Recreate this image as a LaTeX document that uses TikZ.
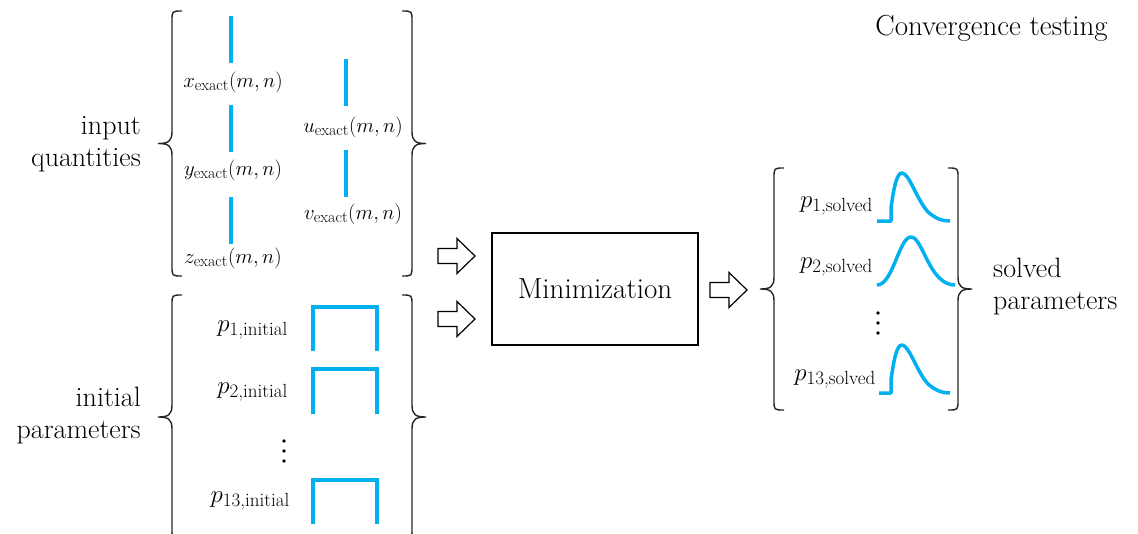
\documentclass[tikz,border=0pt]{standalone}
\definecolor{cyanline}{RGB}{0,176,240}
\newcommand{\BraceL}[3]{%
 \draw[brc] ({#1+10},#2) .. controls (#1,#2) .. (#1,{#2+10}) -- (#1,{(#2+#3)/2-12}) .. controls (#1,{(#2+#3)/2-2}) and ({#1-4},{(#2+#3)/2}) .. ({#1-14},{(#2+#3)/2}) .. controls ({#1-4},{(#2+#3)/2}) and (#1,{(#2+#3)/2+2}) .. (#1,{(#2+#3)/2+12}) -- (#1,{#3-10}) .. controls (#1,#3) .. ({#1+10},#3);}
\newcommand{\BraceR}[3]{%
 \draw[brc] ({#1-10},#2) .. controls (#1,#2) .. (#1,{#2+10}) -- (#1,{(#2+#3)/2-12}) .. controls (#1,{(#2+#3)/2-2}) and ({#1+4},{(#2+#3)/2}) .. ({#1+14},{(#2+#3)/2}) .. controls ({#1+4},{(#2+#3)/2}) and (#1,{(#2+#3)/2+2}) .. (#1,{(#2+#3)/2+12}) -- (#1,{#3-10}) .. controls (#1,#3) .. ({#1-10},#3);}
\newcommand{\subA}[1]{\mbox{\fontsize{16}{16}\selectfont #1}}
\newcommand{\subB}[1]{\mbox{\fontsize{19}{19}\selectfont #1}}
\begin{document}
\begin{tikzpicture}[x=1pt,y=-1pt,
  txt/.style={font=\fontsize{29}{32}\selectfont, inner sep=0pt},
  txtl/.style={font=\fontsize{28}{32}\selectfont, inner sep=0pt},
  mth/.style={font=\fontsize{21}{24}\selectfont, inner sep=0pt},
  mthp/.style={font=\fontsize{26}{28}\selectfont, inner sep=0pt},
  bluel/.style={draw=cyanline, line width=3.5pt, line join=miter},
  brc/.style={draw=black!85, line width=1.4pt},
  blk/.style={draw, line width=1.2pt, fill=white, line join=miter},
  dot/.style={fill=black, circle, inner sep=0pt, minimum size=3.6pt},
  blkarrow/.pic={\draw[blk] (0,-7.5) -- (19,-7.5) -- (19,-17.5) -- (37,0) -- (19,17.5) -- (19,7.5) -- (0,7.5) -- cycle;}]
\useasboundingbox (0,0) rectangle (1138,533);
\begin{scope}
\clip (0,0) rectangle (1138,533);
% title
\node[txt, anchor=east] (title) at (1108,28) {Convergence testing};
% side labels
\node[txtl, anchor=east, align=right] (inlab) at (141,144) {input\\quantities};
\node[txtl, anchor=east, align=right] (initlab) at (141,416) {initial\\parameters};
\node[txtl, anchor=west, align=left] (sollab) at (993,287) {solved\\parameters};
% braces
\BraceL{172}{11}{276}
\BraceR{412}{11}{276}
\BraceL{172}{295}{539}
\BraceR{412}{295}{539}
\BraceL{774}{168}{410}
\BraceR{958}{168}{410}
% input quantities
\draw[bluel] (231,16) -- (231,63);
\draw[bluel] (231,105) -- (231,152);
\draw[bluel] (231,197) -- (231,244);
\draw[bluel] (346,59) -- (346,106);
\draw[bluel] (346,150) -- (346,197);
\node[mth] (xq) at (233,82) {$x_{\subA{exact}}(m,n)$};
\node[mth] (yq) at (233,170) {$y_{\subA{exact}}(m,n)$};
\node[mth] (zq) at (233,258) {$z_{\subA{exact}}(m,n)$};
\node[mth] (uq) at (353,127) {$u_{\subA{exact}}(m,n)$};
\node[mth] (vq) at (353,214) {$v_{\subA{exact}}(m,n)$};
% initial parameters
\node[mthp, anchor=east] (p1i) at (288,330) {$p_{\subB{1,initial}}$};
\node[mthp, anchor=east] (p2i) at (288,392) {$p_{\subB{2,initial}}$};
\node[dot] (di1) at (284,441) {};
\node[dot] (di2) at (284,451) {};
\node[dot] (di3) at (284,461) {};
\node[mthp, anchor=east] (p13i) at (290,501) {$p_{\subB{13,initial}}$};
\draw[bluel] (313,351) -- (313,307) -- (377,307) -- (377,351);
\draw[bluel] (313,414) -- (313,369) -- (377,369) -- (377,414);
\draw[bluel] (313,524) -- (313,480) -- (377,480) -- (377,524);
% arrows and box
\pic at (438,256) {blkarrow};
\pic at (438,319) {blkarrow};
\node[draw, line width=1.3pt, minimum width=206pt, minimum height=112pt, txt] (mini) at (595,289) {Minimization};
\pic at (710,290) {blkarrow};
% solved parameters
\node[mthp, anchor=east] (p1s) at (873,206) {$p_{\subB{1,solved}}$};
\node[mthp, anchor=east] (p2s) at (873,267) {$p_{\subB{2,solved}}$};
\node[dot] (ds1) at (878,313) {};
\node[dot] (ds2) at (878,323) {};
\node[dot] (ds3) at (878,333) {};
\node[mthp, anchor=east] (p13s) at (876,379) {$p_{\subB{13,solved}}$};
\draw[bluel, line join=round] (877,221) -- (891,221) -- (891,208) .. controls (894,186) and (897,173) .. (902,173) .. controls (909,173) and (917,200) .. (928,212) .. controls (936,219) and (943,221) .. (950,221);
\draw[bluel, line join=round] (877,285) .. controls (893,285) and (899,237) .. (911,237) .. controls (923,237) and (929,285) .. (955,285);
\draw[bluel, line join=round] (879,393) -- (891,393) -- (891,380) .. controls (894,358) and (897,345) .. (902,345) .. controls (909,345) and (917,372) .. (928,384) .. controls (936,391) and (943,393) .. (950,393);
\end{scope}
\end{tikzpicture}
\end{document}
